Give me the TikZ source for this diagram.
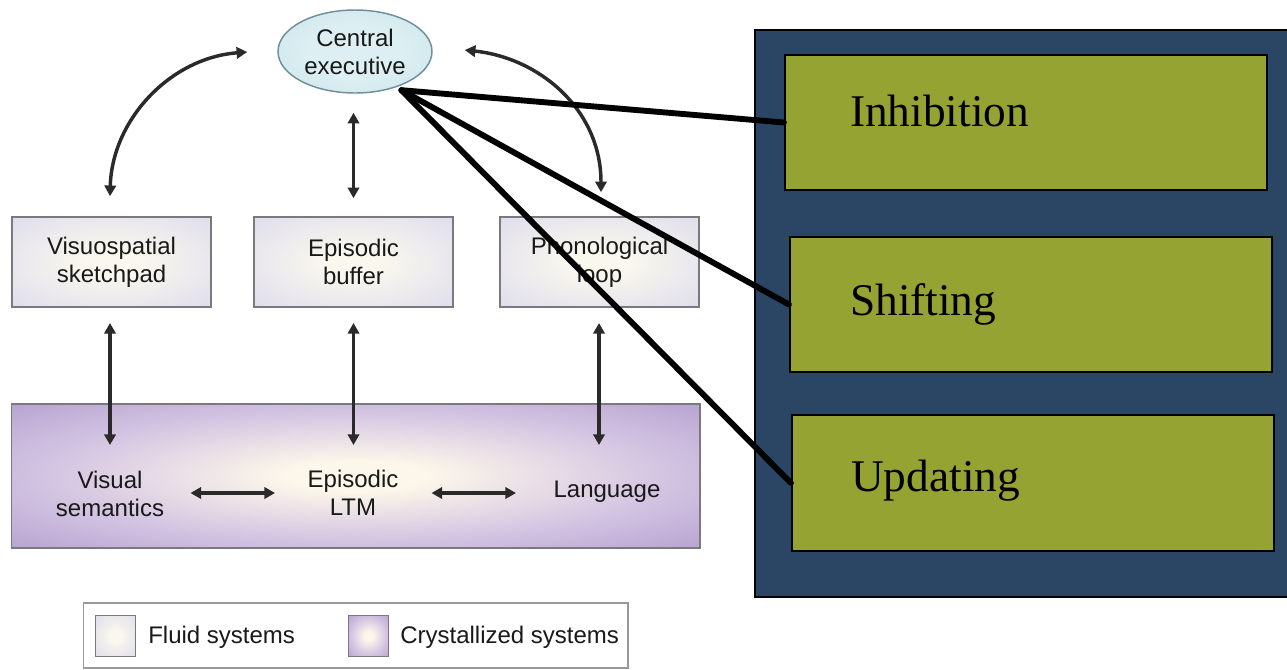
\documentclass[tikz,border=0pt]{standalone}
\usepackage{fontspec}
\setmainfont{Liberation Serif}
\newfontfamily\labelsans{Liberation Sans}
\usetikzlibrary{arrows.meta,calc,shapes.geometric}

% colours
\definecolor{fluidin}{HTML}{FAF8EE}
\definecolor{fluidout}{HTML}{D7D6EB}
\definecolor{crysin}{HTML}{FCF7EA}
\definecolor{crysmid}{HTML}{D4C5E2}
\definecolor{crysout}{HTML}{A68FC6}
\definecolor{cein}{HTML}{DDEFF2}
\definecolor{ceout}{HTML}{BDDFE8}
\definecolor{ceedge}{HTML}{6F8F9A}
\definecolor{boxedge}{HTML}{7A7A7E}
\definecolor{arrowgray}{HTML}{2A2A2A}
\definecolor{navy}{HTML}{2A4664}
\definecolor{olive}{HTML}{94A332}

% soft centre glow used by the memory boxes
\pgfdeclareradialshading{fluidglow}{\pgfpoint{0bp}{0bp}}{color(0bp)=(fluidin); color(6bp)=(fluidin); color(44bp)=(fluidout); color(100bp)=(fluidout)}
\pgfdeclareradialshading{crysglow}{\pgfpoint{0bp}{0bp}}{color(0bp)=(crysin); color(5bp)=(crysin); color(22bp)=(crysmid); color(44bp)=(crysout); color(100bp)=(crysout)}
\pgfdeclareradialshading{ceglow}{\pgfpoint{0bp}{0bp}}{color(0bp)=(cein); color(15bp)=(cein); color(50bp)=(ceout); color(100bp)=(ceout)}

\tikzset{
  sanslabel/.style={font=\labelsans\fontsize{18}{21}\selectfont, align=center, inner sep=0pt, text=black!90},
  fluidbox/.style={draw=boxedge, line width=1.2pt, shading=fluidglow, minimum width=149.25pt, minimum height=67.5pt, inner sep=0pt, sanslabel},
  biarrow/.style={draw=arrowgray, line width=2.6pt, {Triangle[length=8pt,width=8.5pt]}-{Triangle[length=8pt,width=8.5pt]}},
  taskbox/.style={draw=black, line width=1.6pt, fill=olive, inner sep=0pt, minimum width=361.5pt, minimum height=101.25pt},
  tasklabel/.style={font=\fontsize{34}{40}\selectfont, anchor=base west, inner sep=0pt},
  link/.style={draw=black, line width=4.4pt, line cap=round},
}

\begin{document}
\begin{tikzpicture}[x=0.75pt, y=-0.75pt]
\useasboundingbox (0,0) rectangle (1287,669);

% ---------- working-memory model ----------
\node[ellipse, draw=ceedge, line width=1.1pt, shading=ceglow, minimum width=115.5pt, minimum height=62.25pt, inner sep=0pt, sanslabel] (ce) at (355,51.5) {Central\\executive};

\node[fluidbox] (vs) at (111.5,262) {Visuospatial\\sketchpad};
\node[fluidbox] (eb) at (353.5,262) {Episodic\\buffer};
\node[fluidbox] (pl) at (599.5,262) {Phonological\\loop};

\node[draw=boxedge, line width=1.2pt, shading=crysglow, minimum width=516.4pt, minimum height=108pt, inner sep=0pt] (lt) at (355.75,476) {};
\node[sanslabel] (vsem) at (110,494) {Visual\\semantics};
\node[sanslabel] (eltm) at (353,493) {Episodic\\LTM};
\node[sanslabel] (lang) at (607,492) {Language};

% arrow end points
\coordinate (ceL) at ($(ce.west)+(-30,0.5)$);
\coordinate (ceR) at ($(ce.east)+(32,-1.5)$);
\coordinate (vsT) at ($(vs.north)+(-1.5,-20)$);
\coordinate (plT) at ($(pl.north)+(1.5,-24)$);
\coordinate (ceB) at ($(ce.south)+(-1.5,19)$);
\coordinate (ebT) at ($(eb.north)+(0,-18)$);
\coordinate (vsB) at (110,323);
\coordinate (vsemT) at (110,445);
\coordinate (ebB) at (353.5,323);
\coordinate (eltmT) at (353.5,445);
\coordinate (plB) at (599,323);
\coordinate (langT) at (599,445);
\coordinate (h1a) at (190.5,493);
\coordinate (h1b) at (275,493);
\coordinate (h2a) at (431.5,493);
\coordinate (h2b) at (516,493);

\draw[biarrow] (vsT) .. controls (112,120) and (170,58) .. (ceL);
\draw[biarrow] (ceR) .. controls (540,58) and (601,110) .. (plT);
\draw[biarrow] (ceB) -- (ebT);
\draw[biarrow] (vsB) -- (vsemT);
\draw[biarrow] (ebB) -- (eltmT);
\draw[biarrow] (plB) -- (langT);
\draw[biarrow] (h1a) -- (h1b);
\draw[biarrow] (h2a) -- (h2b);

% legend
\node[draw=black!40, line width=0.8pt, fill=white, minimum width=408.4pt, minimum height=48.75pt, inner sep=0pt] (legend) at (355.75,635.5) {};
\node[draw=boxedge, line width=1pt, shading=fluidglow, minimum width=30pt, minimum height=31pt, inner sep=0pt] (swf) at (115.5,636) {};
\node[draw=boxedge, line width=1pt, shading=crysglow, minimum width=30pt, minimum height=31pt, inner sep=0pt] (swc) at (368.5,636) {};
\node[sanslabel, anchor=west] (lf) at (148,637) {Fluid systems};
\node[sanslabel, anchor=west] (lc) at (400,637) {Crystallized systems};

% ---------- executive functions ----------
\node[draw=black, line width=1.6pt, fill=navy, minimum width=402.75pt, minimum height=425.25pt, inner sep=0pt] (panel) at (1023.5,313.5) {};
\node[taskbox] (inh) at (1026,122.5) {};
\node[taskbox] (shi) at (1031,304.5) {};
\node[taskbox, minimum height=102pt] (upd) at (1033,483) {};
\node[tasklabel] (tinh) at ($(inh.west)+(66,3.5)$) {Inhibition};
\node[tasklabel] (tshi) at ($(shi.west)+(61,10.5)$) {Shifting};
\node[tasklabel] (tupd) at ($(upd.west)+(60,8)$) {Updating};

\coordinate (hub) at ($(ce.-38)+(2,4)$);
\draw[link] (hub) -- (inh.west);
\draw[link] (hub) -- (shi.west);
\draw[link] (hub) -- (upd.west);
\end{tikzpicture}
\end{document}
